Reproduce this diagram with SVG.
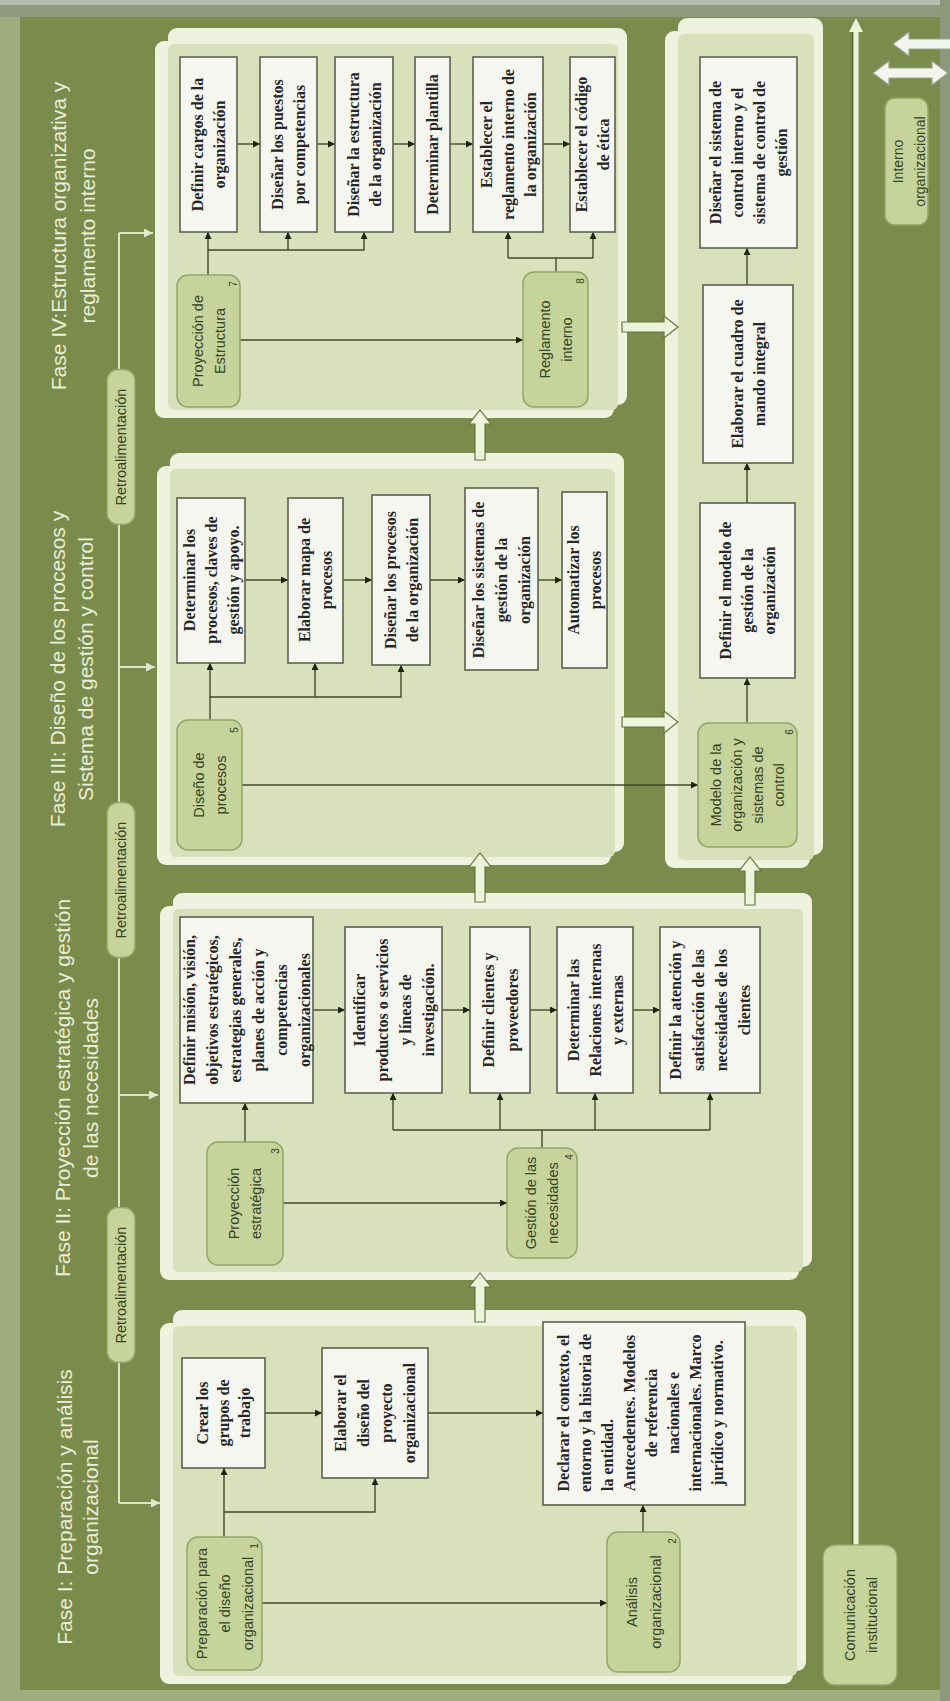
<svg xmlns="http://www.w3.org/2000/svg" width="950" height="1701" viewBox="0 0 950 1701">
<defs>
<style>
.pA{fill:#eef2de}
.pin{fill:#d8e1bb}
.box{fill:#f5f6f0;stroke:#5e6150;stroke-width:1.6}
.bt{font-family:"Liberation Serif","Times New Roman",serif;font-weight:bold;font-size:16px;fill:#262626;text-anchor:middle}
.pill{fill:#c6d49c;stroke:#93a568;stroke-width:1.5}
.pt{font-family:"Liberation Sans",Arial,sans-serif;font-size:14.5px;fill:#35421f;text-anchor:middle}
.num{font-family:"Liberation Sans",Arial,sans-serif;font-size:10px;fill:#2d3a1a;text-anchor:middle}
.ttl{font-family:"Liberation Sans",Arial,sans-serif;font-size:21px;fill:#e9eed8;text-anchor:middle}
.ln{fill:none;stroke:#3f4a2c;stroke-width:1.4}
.fb{fill:none;stroke:#dde5c6;stroke-width:2}
.blk{fill:#eef3dc;stroke:#67773f;stroke-width:1.2}
.wa{fill:#f3f5ef;stroke:#9ea38c;stroke-width:1.2}
</style>
<marker id="ah" viewBox="0 0 10 10" refX="10" refY="5" markerWidth="7" markerHeight="7" markerUnits="userSpaceOnUse" orient="auto"><path d="M0,0 L10,5 L0,10 z" fill="#1e2412"/></marker>
<marker id="ahl" viewBox="0 0 10 10" refX="10" refY="5" markerWidth="9" markerHeight="9" markerUnits="userSpaceOnUse" orient="auto"><path d="M0,0 L10,5 L0,10 z" fill="#e3e9cf"/></marker>
</defs>

<g id="background">
<rect width="950" height="1701" fill="#9fac7e"/>
<rect x="0" y="0" width="950" height="17" fill="#8f9a7a"/>
<rect x="0" y="0" width="950" height="5" fill="#b8bcae"/>
<rect x="20" y="17" width="920" height="1673" fill="#7b8b4b"/>
<rect x="940" y="0" width="10" height="1701" fill="#8d977c"/>
</g>

<g id="titles">
<text class="ttl" transform="translate(73,236) rotate(-90)"><tspan x="0" y="-6.6">Fase IV:Estructura organizativa y</tspan><tspan x="0" y="22.4">reglamento interno</tspan></text>
<text class="ttl" transform="translate(72,669) rotate(-90)"><tspan x="0" y="-6.6">Fase III: Diseño de los procesos y</tspan><tspan x="0" y="21.4">Sistema de gestión y control</tspan></text>
<text class="ttl" transform="translate(76.5,1088) rotate(-90)"><tspan x="0" y="-6.6">Fase II: Proyección estratégica y gestión</tspan><tspan x="0" y="21.4">de las necesidades</tspan></text>
<text class="ttl" transform="translate(77.5,1507) rotate(-90)"><tspan x="0" y="-5.6">Fase I: Preparación y análisis</tspan><tspan x="0" y="20.4">organizacional</tspan></text>
</g>

<g id="panel-fase-iv">
<rect class="pA" x="168" y="28" width="459" height="377" rx="9"/>
<rect class="pA" x="155" y="41" width="459" height="377" rx="9"/>
<rect class="pin" x="168" y="44" width="450" height="366" rx="6"/>
</g>
<g id="panel-fase-iii">
<rect class="pA" x="170" y="453" width="454" height="399" rx="9"/>
<rect class="pA" x="157" y="466" width="454" height="399" rx="9"/>
<rect class="pin" x="170" y="469" width="445" height="388" rx="6"/>
</g>
<g id="panel-control">
<rect class="pA" x="678" y="18" width="145" height="837" rx="9"/>
<rect class="pA" x="665" y="31" width="145" height="837" rx="9"/>
<rect class="pin" x="678" y="34" width="136" height="826" rx="6"/>
</g>
<g id="panel-fase-ii">
<rect class="pA" x="173" y="893" width="639" height="374" rx="9"/>
<rect class="pA" x="160" y="906" width="639" height="374" rx="9"/>
<rect class="pin" x="173" y="909" width="630" height="363" rx="6"/>
</g>
<g id="panel-fase-i">
<rect class="pA" x="173" y="1310" width="633" height="361" rx="9"/>
<rect class="pA" x="160" y="1323" width="633" height="361" rx="9"/>
<rect class="pin" x="173" y="1326" width="624" height="350" rx="6"/>
</g>

<g id="connectors">
<path class="fb" d="M119,233 V1503"/>
<path class="fb" d="M119,233 H153" marker-end="url(#ahl)"/>
<path class="fb" d="M119,667 H155" marker-end="url(#ahl)"/>
<path class="fb" d="M119,1095 H158" marker-end="url(#ahl)"/>
<path class="fb" d="M119,1503 H160" marker-end="url(#ahl)"/>
<line x1="852.5" y1="30" x2="852.5" y2="1545" stroke="#5a6a33" stroke-width="1.5"/>
<line x1="856" y1="30" x2="856" y2="1545" stroke="#eef2dc" stroke-width="5"/>
<path d="M856,18 L863,32 L849,32 Z" fill="#eef2dc"/>
<path class="blk" d="M475,460 L475,424 L469,424 L480,410 L491,424 L485,424 L485,460 Z"/>
<path class="blk" d="M475,902 L475,867 L469,867 L480,853 L491,867 L485,867 L485,902 Z"/>
<path class="blk" d="M475,1322 L475,1287 L469,1287 L480,1273 L491,1287 L485,1287 L485,1322 Z"/>
<path class="blk" d="M745,905 L745,871 L739,871 L750,857 L761,871 L755,871 L755,905 Z"/>
<path class="blk" d="M622,322 L664,322 L664,316 L678,327 L664,338 L664,332 L622,332 Z"/>
<path class="blk" d="M622,717 L664,717 L664,711 L678,722 L664,733 L664,727 L622,727 Z"/>
<path class="wa" d="M893,44 L909,32 L909,39 L952,39 L952,49 L909,49 L909,56 Z"/>
<path class="wa" d="M873,73 L889,61 L889,68 L932,68 L932,61 L948,73 L932,85 L932,78 L889,78 L889,85 Z"/>
<path class="ln" d="M208,275 V232" marker-end="url(#ah)"/>
<path class="ln" d="M208,250 H364 V232" marker-end="url(#ah)"/>
<path class="ln" d="M288,250 V232" marker-end="url(#ah)"/>
<path class="ln" d="M240,340 H523" marker-end="url(#ah)"/>
<path class="ln" d="M556,272 V258 M508,258 H593"/>
<path class="ln" d="M508,258 V232" marker-end="url(#ah)"/>
<path class="ln" d="M593,258 V232" marker-end="url(#ah)"/>
<path class="ln" d="M237,144 H260" marker-end="url(#ah)"/>
<path class="ln" d="M317,144 H335" marker-end="url(#ah)"/>
<path class="ln" d="M393,144 H415" marker-end="url(#ah)"/>
<path class="ln" d="M450,144 H473" marker-end="url(#ah)"/>
<path class="ln" d="M543,144 H570" marker-end="url(#ah)"/>
<path class="ln" d="M210,720 V663" marker-end="url(#ah)"/>
<path class="ln" d="M210,697 H401 V665" marker-end="url(#ah)"/>
<path class="ln" d="M315,697 V663" marker-end="url(#ah)"/>
<path class="ln" d="M242,785 H698" marker-end="url(#ah)"/>
<path class="ln" d="M245,580 H288" marker-end="url(#ah)"/>
<path class="ln" d="M343,580 H372" marker-end="url(#ah)"/>
<path class="ln" d="M430,580 H465" marker-end="url(#ah)"/>
<path class="ln" d="M538,580 H562" marker-end="url(#ah)"/>
<path class="ln" d="M245,1142 V1103" marker-end="url(#ah)"/>
<path class="ln" d="M283,1203 H507" marker-end="url(#ah)"/>
<path class="ln" d="M542,1148 V1130 M393,1130 H710"/>
<path class="ln" d="M393,1130 V1093" marker-end="url(#ah)"/>
<path class="ln" d="M500,1130 V1093" marker-end="url(#ah)"/>
<path class="ln" d="M595,1130 V1093" marker-end="url(#ah)"/>
<path class="ln" d="M710,1130 V1093" marker-end="url(#ah)"/>
<path class="ln" d="M313,1010 H345" marker-end="url(#ah)"/>
<path class="ln" d="M442,1010 H470" marker-end="url(#ah)"/>
<path class="ln" d="M530,1010 H557" marker-end="url(#ah)"/>
<path class="ln" d="M633,1010 H660" marker-end="url(#ah)"/>
<path class="ln" d="M747,723 V678" marker-end="url(#ah)"/>
<path class="ln" d="M747,503 V463" marker-end="url(#ah)"/>
<path class="ln" d="M747,285 V248" marker-end="url(#ah)"/>
<path class="ln" d="M224,1537 V1468" marker-end="url(#ah)"/>
<path class="ln" d="M224,1512 H375 V1478" marker-end="url(#ah)"/>
<path class="ln" d="M262,1603 H607" marker-end="url(#ah)"/>
<path class="ln" d="M265,1413 H322" marker-end="url(#ah)"/>
<path class="ln" d="M428,1413 H543" marker-end="url(#ah)"/>
<path class="ln" d="M643,1532 V1505" marker-end="url(#ah)"/>
</g>

<g id="retro-1"><rect class="pill" x="107" y="369.5" width="28" height="155" rx="11"/><text class="pt" transform="translate(121,447) rotate(-90)" y="5">Retroalimentación</text></g>
<g id="retro-2"><rect class="pill" x="107" y="802.5" width="28" height="155" rx="11"/><text class="pt" transform="translate(121,880) rotate(-90)" y="5">Retroalimentación</text></g>
<g id="retro-3"><rect class="pill" x="107" y="1207.5" width="28" height="155" rx="11"/><text class="pt" transform="translate(121,1285) rotate(-90)" y="5">Retroalimentación</text></g>

<g id="comunicacion"><rect class="pill" x="823" y="1545" width="74" height="140" rx="12"/><text class="pt" transform="translate(860.5,1615) rotate(-90)"><tspan x="0" y="-6">Comunicación</tspan><tspan x="0" y="16">institucional</tspan></text></g>
<g id="interno"><rect class="pill" x="885" y="98" width="43" height="127" rx="10"/><text class="pt" style="font-size:14px" transform="translate(908.5,161.5) rotate(-90)"><tspan x="0" y="-6">Interno</tspan><tspan x="0" y="16">organizacional</tspan></text></g>

<g id="n7"><rect class="pill" x="177" y="275" width="63" height="132" rx="11"/><text class="pt" transform="translate(208.5,341) rotate(-90)"><tspan x="0" y="-6">Proyección de</tspan><tspan x="0" y="16">Estructura</tspan></text><text class="num" transform="translate(233,284) rotate(-90)" y="3.5">7</text></g>
<g id="n8"><rect class="pill" x="523" y="272" width="65" height="135" rx="11"/><text class="pt" transform="translate(555.5,339.5) rotate(-90)"><tspan x="0" y="-6">Reglamento</tspan><tspan x="0" y="16">interno</tspan></text><text class="num" transform="translate(580,281) rotate(-90)" y="3.5">8</text></g>
<g id="n5"><rect class="pill" x="177" y="720" width="65" height="130" rx="11"/><text class="pt" transform="translate(209.5,785) rotate(-90)"><tspan x="0" y="-6">Diseño de</tspan><tspan x="0" y="16">procesos</tspan></text><text class="num" transform="translate(234,730) rotate(-90)" y="3.5">5</text></g>
<g id="n6"><rect class="pill" x="698" y="723" width="99" height="124" rx="11"/><text class="pt" transform="translate(747.5,785) rotate(-90)"><tspan x="0" y="-26.5">Modelo de la</tspan><tspan x="0" y="-5.5">organización y</tspan><tspan x="0" y="15.5">sistemas de</tspan><tspan x="0" y="36.5">control</tspan></text><text class="num" transform="translate(789,732) rotate(-90)" y="3.5">6</text></g>
<g id="n3"><rect class="pill" x="207" y="1142" width="76" height="123" rx="11"/><text class="pt" transform="translate(245,1203.5) rotate(-90)"><tspan x="0" y="-6">Proyección</tspan><tspan x="0" y="16">estratégica</tspan></text><text class="num" transform="translate(275,1151) rotate(-90)" y="3.5">3</text></g>
<g id="n4"><rect class="pill" x="507" y="1148" width="70" height="110" rx="11"/><text class="pt" transform="translate(542,1203) rotate(-90)"><tspan x="0" y="-6">Gestión de las</tspan><tspan x="0" y="16">necesidades</tspan></text><text class="num" transform="translate(569,1157) rotate(-90)" y="3.5">4</text></g>
<g id="n1"><rect class="pill" x="187" y="1537" width="75" height="133" rx="11"/><text class="pt" transform="translate(224.5,1603.5) rotate(-90)"><tspan x="0" y="-18">Preparación para</tspan><tspan x="0" y="5">el diseño</tspan><tspan x="0" y="28">organizacional</tspan></text><text class="num" transform="translate(254,1546) rotate(-90)" y="3.5">1</text></g>
<g id="n2"><rect class="pill" x="607" y="1532" width="73" height="140" rx="11"/><text class="pt" transform="translate(643.5,1602) rotate(-90)"><tspan x="0" y="-7">Análisis</tspan><tspan x="0" y="17">organizacional</tspan></text><text class="num" transform="translate(672,1541) rotate(-90)" y="3.5">2</text></g>

<g id="b-iv-1"><rect class="box" x="180" y="57" width="57" height="175"/><text class="bt" transform="translate(208.5,144.5) rotate(-90)"><tspan x="0" y="-5.4">Definir cargos de la</tspan><tspan x="0" y="16.6">organización</tspan></text></g>
<g id="b-iv-2"><rect class="box" x="260" y="57" width="57" height="175"/><text class="bt" transform="translate(288.5,144.5) rotate(-90)"><tspan x="0" y="-5.4">Diseñar los puestos</tspan><tspan x="0" y="16.6">por competencias</tspan></text></g>
<g id="b-iv-3"><rect class="box" x="335" y="57" width="58" height="175"/><text class="bt" transform="translate(364,144.5) rotate(-90)"><tspan x="0" y="-5.4">Diseñar la estructura</tspan><tspan x="0" y="16.6">de la organización</tspan></text></g>
<g id="b-iv-4"><rect class="box" x="415" y="57" width="35" height="175"/><text class="bt" transform="translate(432.5,144.5) rotate(-90)" y="5.6">Determinar plantilla</text></g>
<g id="b-iv-5"><rect class="box" x="473" y="57" width="70" height="175"/><text class="bt" transform="translate(508,144.5) rotate(-90)"><tspan x="0" y="-16.4">Establecer el</tspan><tspan x="0" y="5.6">reglamento interno de</tspan><tspan x="0" y="27.6">la organización</tspan></text></g>
<g id="b-iv-6"><rect class="box" x="570" y="57" width="45" height="175"/><text class="bt" transform="translate(592.5,144.5) rotate(-90)"><tspan x="0" y="-5.4">Establecer el código</tspan><tspan x="0" y="16.6">de ética</tspan></text></g>

<g id="b-iii-1"><rect class="box" x="177" y="498" width="68" height="165"/><text class="bt" transform="translate(211,580) rotate(-90)"><tspan x="0" y="-16.4">Determinar los</tspan><tspan x="0" y="5.6">procesos, claves de</tspan><tspan x="0" y="27.6">gestión y apoyo.</tspan></text></g>
<g id="b-iii-2"><rect class="box" x="288" y="498" width="55" height="165"/><text class="bt" transform="translate(315.5,580) rotate(-90)"><tspan x="0" y="-5.4">Elaborar mapa de</tspan><tspan x="0" y="16.6">procesos</tspan></text></g>
<g id="b-iii-3"><rect class="box" x="372" y="495" width="58" height="170"/><text class="bt" transform="translate(401,580) rotate(-90)"><tspan x="0" y="-5.4">Diseñar los procesos</tspan><tspan x="0" y="16.6">de la organización</tspan></text></g>
<g id="b-iii-4"><rect class="box" x="465" y="488" width="73" height="182"/><text class="bt" transform="translate(501.5,580) rotate(-90)"><tspan x="0" y="-17.4">Diseñar los sistemas de</tspan><tspan x="0" y="5.6">gestión de la</tspan><tspan x="0" y="28.6">organización</tspan></text></g>
<g id="b-iii-5"><rect class="box" x="562" y="492" width="45" height="176"/><text class="bt" transform="translate(584.5,580) rotate(-90)"><tspan x="0" y="-5.4">Automatizar los</tspan><tspan x="0" y="16.6">procesos</tspan></text></g>

<g id="b-ii-1"><rect class="box" x="180" y="917" width="133" height="186"/><text class="bt" transform="translate(246.5,1010) rotate(-90)"><tspan x="0" y="-51.9">Definir misión, visión,</tspan><tspan x="0" y="-28.9">objetivos estratégicos,</tspan><tspan x="0" y="-5.9">estrategias generales,</tspan><tspan x="0" y="17.1">planes de acción y</tspan><tspan x="0" y="40.1">competencias</tspan><tspan x="0" y="63.1">organizacionales</tspan></text></g>
<g id="b-ii-2"><rect class="box" x="345" y="927" width="97" height="166"/><text class="bt" transform="translate(393.5,1010) rotate(-90)"><tspan x="0" y="-28.9">Identificar</tspan><tspan x="0" y="-5.9">productos o servicios</tspan><tspan x="0" y="17.1">y líneas de</tspan><tspan x="0" y="40.1">investigación.</tspan></text></g>
<g id="b-ii-3"><rect class="box" x="470" y="927" width="60" height="166"/><text class="bt" transform="translate(500,1010) rotate(-90)"><tspan x="0" y="-6.4">Definir clientes y</tspan><tspan x="0" y="17.6">proveedores</tspan></text></g>
<g id="b-ii-4"><rect class="box" x="557" y="927" width="76" height="166"/><text class="bt" transform="translate(595,1010) rotate(-90)"><tspan x="0" y="-16.4">Determinar las</tspan><tspan x="0" y="5.6">Relaciones internas</tspan><tspan x="0" y="27.6">y externas</tspan></text></g>
<g id="b-ii-5"><rect class="box" x="660" y="927" width="100" height="166"/><text class="bt" transform="translate(710,1010) rotate(-90)"><tspan x="0" y="-28.9">Definir la atención y</tspan><tspan x="0" y="-5.9">satisfacción de las</tspan><tspan x="0" y="17.1">necesidades de los</tspan><tspan x="0" y="40.1">clientes</tspan></text></g>

<g id="b-ctl-1"><rect class="box" x="700" y="57" width="97" height="191"/><text class="bt" transform="translate(748.5,152.5) rotate(-90)"><tspan x="0" y="-27.4">Diseñar el sistema de</tspan><tspan x="0" y="-5.4">control interno y el</tspan><tspan x="0" y="16.6">sistema de control de</tspan><tspan x="0" y="38.6">gestión</tspan></text></g>
<g id="b-ctl-2"><rect class="box" x="703" y="285" width="90" height="178"/><text class="bt" transform="translate(748,374) rotate(-90)"><tspan x="0" y="-5.4">Elaborar el cuadro de</tspan><tspan x="0" y="16.6">mando integral</tspan></text></g>
<g id="b-ctl-3"><rect class="box" x="700" y="503" width="95" height="175"/><text class="bt" transform="translate(747.5,590.5) rotate(-90)"><tspan x="0" y="-16.4">Definir el modelo de</tspan><tspan x="0" y="5.6">gestión de la</tspan><tspan x="0" y="27.6">organización</tspan></text></g>

<g id="b-i-1"><rect class="box" x="182" y="1358" width="83" height="110"/><text class="bt" transform="translate(223.5,1413) rotate(-90)"><tspan x="0" y="-15.4">Crear los</tspan><tspan x="0" y="5.6">grupos de</tspan><tspan x="0" y="26.6">trabajo</tspan></text></g>
<g id="b-i-2"><rect class="box" x="322" y="1348" width="106" height="130"/><text class="bt" transform="translate(375,1413) rotate(-90)"><tspan x="0" y="-28.9">Elaborar el</tspan><tspan x="0" y="-5.9">diseño del</tspan><tspan x="0" y="17.1">proyecto</tspan><tspan x="0" y="40.1">organizacional</tspan></text></g>
<g id="b-i-3"><rect class="box" x="543" y="1322" width="202" height="183"/><text class="bt" transform="translate(640,1413) rotate(-90)"><tspan x="0" y="-71.4">Declarar el contexto, el</tspan><tspan x="0" y="-49.4">entorno y la historia de</tspan><tspan x="-78" y="-27.4" style="text-anchor:start">la entidad.</tspan><tspan x="0" y="-5.4">Antecedentes. Modelos</tspan><tspan x="0" y="16.6">de referencia</tspan><tspan x="0" y="38.6">nacionales e</tspan><tspan x="0" y="60.6">internacionales. Marco</tspan><tspan x="0" y="82.6">jurídico y normativo.</tspan></text></g>
</svg>
